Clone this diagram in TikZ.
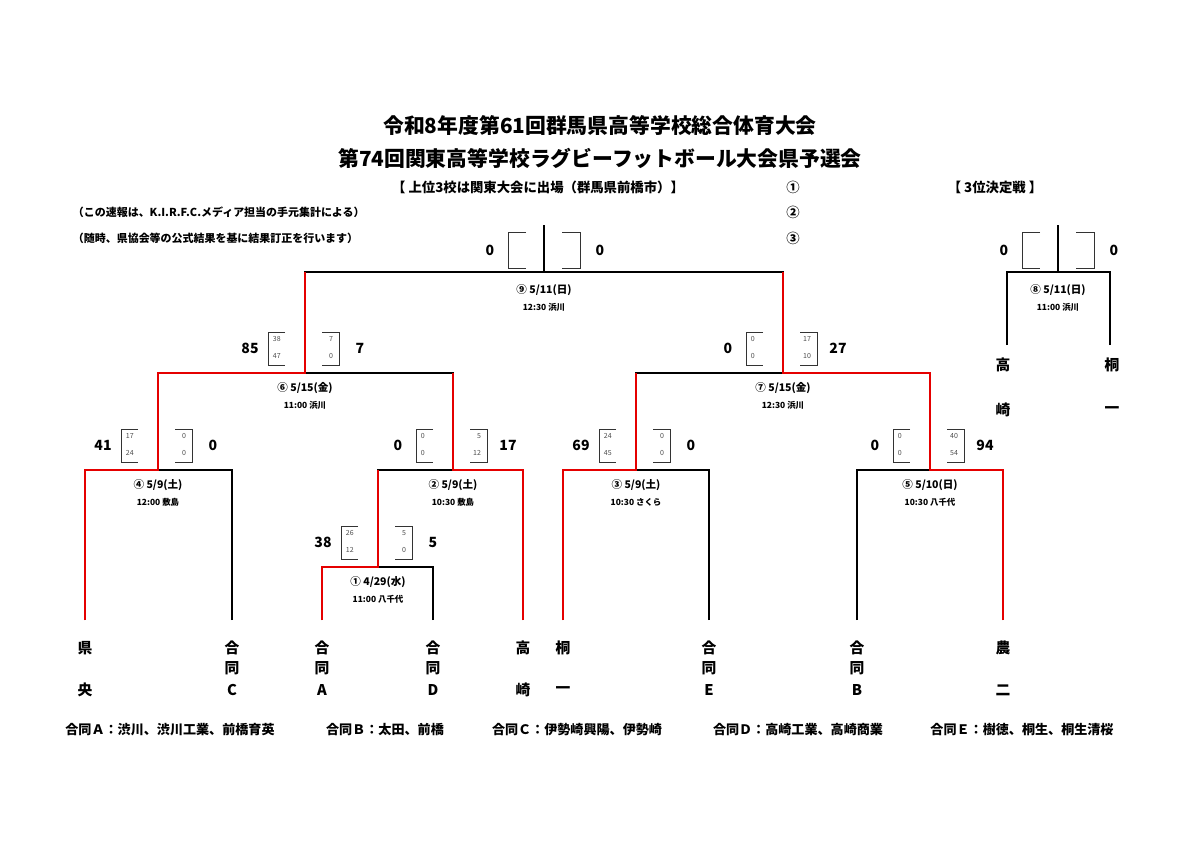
\documentclass[tikz,border=0pt]{standalone}
\usepackage{fontspec}
\setmainfont{Noto Sans CJK JP}
\usepackage{tikz}

\tikzset{
  base/.style={line width=1.3pt, black},
  win/.style={line width=1.5pt, red!90!black},
  box/.style={line width=0.5pt, black!80},
  big/.style={font=\bfseries\fontsize{10}{12}\selectfont},
  tiny/.style={font=\fontsize{5}{6}\selectfont, text=black!70},
  team/.style={font=\bfseries\fontsize{10.5}{12}\selectfont},
  day/.style={font=\bfseries\fontsize{7.5}{9}\selectfont},
  hour/.style={font=\bfseries\fontsize{6}{7}\selectfont},
  note/.style={font=\bfseries\fontsize{7.8}{9}\selectfont},
  head/.style={font=\bfseries\fontsize{9.5}{11}\selectfont},
  member/.style={font=\bfseries\fontsize{9.3}{11}\selectfont},
  title/.style={font=\bfseries\fontsize{14.8}{17}\selectfont}
}

% score boxes: x, y, left score, l1, l2, right score, r1, r2
\newcommand\scorebox[8]{
  \draw[box] (#1-20,#2-41) -- (#1-37,#2-41) -- (#1-37,#2-8) -- (#1-20,#2-8);
  \draw[box] (#1+17,#2-41) -- (#1+34,#2-41) -- (#1+34,#2-8) -- (#1+17,#2-8);
  \node[big] at (#1-55,#2-25) {#3};
  \node[big] at (#1+55,#2-25) {#6};
  \node[tiny, anchor=west] at (#1-37,#2-34) {#4};
  \node[tiny, anchor=west] at (#1-37,#2-17) {#5};
  \node[tiny, anchor=east] at (#1+33,#2-34) {#7};
  \node[tiny, anchor=east] at (#1+33,#2-17) {#8};
}

\begin{document}
\begin{tikzpicture}[x=0.025cm, y=-0.025cm]
  \useasboundingbox (0,0) rectangle (1200,848);

  % titles
  \node[title] (T1) at (600,126) {令和8年度第61回群馬県高等学校総合体育大会};
  \node[title] (T2) at (600,158) {第74回関東高等学校ラグビーフットボール大会県予選会};
  \node[head] (S1) at (538,187) {【 上位3校は関東大会に出場（群馬県前橋市）】};
  \node[head] (R1) at (793,187) {①};
  \node[head] (R2) at (793,212) {②};
  \node[head] (R3) at (793,238) {③};
  \node[head] (S2) at (995,187) {【 3位決定戦 】};
  \node[note, anchor=west] (N1) at (68,212) {（この速報は、K.I.R.F.C.メディア担当の手元集計による）};
  \node[note, anchor=west] (N2) at (68,238) {（随時、県協会等の公式結果を基に結果訂正を行います）};

  % leaves
  \coordinate (LK) at (85,620);
  \coordinate (LC) at (232,620);
  \coordinate (LA) at (322,620);
  \coordinate (LD) at (433,620);
  \coordinate (LT) at (523,620);
  \coordinate (LI) at (563,620);
  \coordinate (LE) at (709,620);
  \coordinate (LB) at (857,620);
  \coordinate (LN) at (1003,620);
  % junctions
  \coordinate (J1) at (378,567);
  \coordinate (J2) at (453,470);
  \coordinate (J3) at (636,470);
  \coordinate (J4) at (158,470);
  \coordinate (J5) at (930,470);
  \coordinate (J6) at (305,373);
  \coordinate (J7) at (783,373);
  \coordinate (J9) at (544,272);
  \coordinate (J9t) at (544,225);
  \coordinate (J8) at (1058,272);
  \coordinate (J8t) at (1058,225);
  \coordinate (P1) at (1007,345);
  \coordinate (P2) at (1110,345);

  % bracket
  \draw[base] (LA) |- (J1);
  \draw[base] (LD) |- (J1);
  \draw[base] (LK) |- (J4);
  \draw[base] (LC) |- (J4);
  \draw[base] (J1) |- (J2);
  \draw[base] (LT) |- (J2);
  \draw[base] (LI) |- (J3);
  \draw[base] (LE) |- (J3);
  \draw[base] (LB) |- (J5);
  \draw[base] (LN) |- (J5);
  \draw[base] (J4) |- (J6);
  \draw[base] (J2) |- (J6);
  \draw[base] (J3) |- (J7);
  \draw[base] (J5) |- (J7);
  \draw[base] (J6) |- (J9);
  \draw[base] (J7) |- (J9);
  \draw[base] (J9) -- (J9t);
  \draw[base] (P1) |- (J8);
  \draw[base] (P2) |- (J8);
  \draw[base] (J8) -- (J8t);

  % winners
  \draw[win] (LK) |- (J4) |- (J6) -- (J6 |- J9);
  \draw[win] (LA) |- (J1) -- (J1 |- J2);
  \draw[win] (LT) |- (J2) -- (J2 |- J6);
  \draw[win] (LI) |- (J3) -- (J3 |- J7);
  \draw[win] (LN) |- (J5) |- (J7) -- (J7 |- J9);

  % scores
  \scorebox{378}{567}{38}{26}{12}{5}{5}{0}
  \scorebox{453}{470}{0}{0}{0}{17}{5}{12}
  \scorebox{636}{470}{69}{24}{45}{0}{0}{0}
  \scorebox{158}{470}{41}{17}{24}{0}{0}{0}
  \scorebox{930}{470}{0}{0}{0}{94}{40}{54}
  \scorebox{305}{373}{85}{38}{47}{7}{7}{0}
  \scorebox{783}{373}{0}{0}{0}{27}{17}{10}
  \draw[box] (526,232) -- (508,232) -- (508,268) -- (526,268);
  \draw[box] (562,232) -- (580,232) -- (580,268) -- (562,268);
  \node[big] at (490,250) {0};
  \node[big] at (600,250) {0};
  \draw[box] (1040,232) -- (1022,232) -- (1022,268) -- (1040,268);
  \draw[box] (1076,232) -- (1094,232) -- (1094,268) -- (1076,268);
  \node[big] at (1004,250) {0};
  \node[big] at (1114,250) {0};

  % match labels
  \node[day]  (D1) at (378,582) {① 4/29(水)};
  \node[hour] (H1) at (378,599) {11:00 八千代};
  \node[day]  (D2) at (453,485) {② 5/9(土)};
  \node[hour] (H2) at (453,502) {10:30 敷島};
  \node[day]  (D3) at (636,485) {③ 5/9(土)};
  \node[hour] (H3) at (636,502) {10:30 さくら};
  \node[day]  (D4) at (158,485) {④ 5/9(土)};
  \node[hour] (H4) at (158,502) {12:00 敷島};
  \node[day]  (D5) at (930,485) {⑤ 5/10(日)};
  \node[hour] (H5) at (930,502) {10:30 八千代};
  \node[day]  (D6) at (305,388) {⑥ 5/15(金)};
  \node[hour] (H6) at (305,405) {11:00 浜川};
  \node[day]  (D7) at (783,388) {⑦ 5/15(金)};
  \node[hour] (H7) at (783,405) {12:30 浜川};
  \node[day]  (D9) at (544,290) {⑨ 5/11(日)};
  \node[hour] (H9) at (544,307) {12:30 浜川};
  \node[day]  (D8) at (1058,290) {⑧ 5/11(日)};
  \node[hour] (H8) at (1058,307) {11:00 浜川};

  % teams
  \node[team] at (85,648) {県};   \node[team] at (85,690) {央};
  \node[team] at (232,648) {合}; \node[team] at (232,668) {同}; \node[team] at (232,690) {C};
  \node[team] at (322,648) {合}; \node[team] at (322,668) {同}; \node[team] at (322,690) {A};
  \node[team] at (433,648) {合}; \node[team] at (433,668) {同}; \node[team] at (433,690) {D};
  \node[team] at (523,648) {高}; \node[team] at (523,690) {崎};
  \node[team] at (563,648) {桐}; \node[team] at (563,690) {一};
  \node[team] at (709,648) {合}; \node[team] at (709,668) {同}; \node[team] at (709,690) {E};
  \node[team] at (857,648) {合}; \node[team] at (857,668) {同}; \node[team] at (857,690) {B};
  \node[team] at (1003,648) {農}; \node[team] at (1003,690) {二};
  \node[team] at (1003,365) {高}; \node[team] at (1003,410) {崎};
  \node[team] at (1112,365) {桐}; \node[team] at (1112,410) {一};

  % members
  \node[member] (MA) at (170,730) {合同Ａ：渋川、渋川工業、前橋育英};
  \node[member] (MB) at (385,730) {合同Ｂ：太田、前橋};
  \node[member] (MC) at (577,730) {合同Ｃ：伊勢崎興陽、伊勢崎};
  \node[member] (MD) at (798,730) {合同Ｄ：高崎工業、高崎商業};
  \node[member] (ME) at (1022,730) {合同Ｅ：樹徳、桐生、桐生清桜};
\end{tikzpicture}
\end{document}
